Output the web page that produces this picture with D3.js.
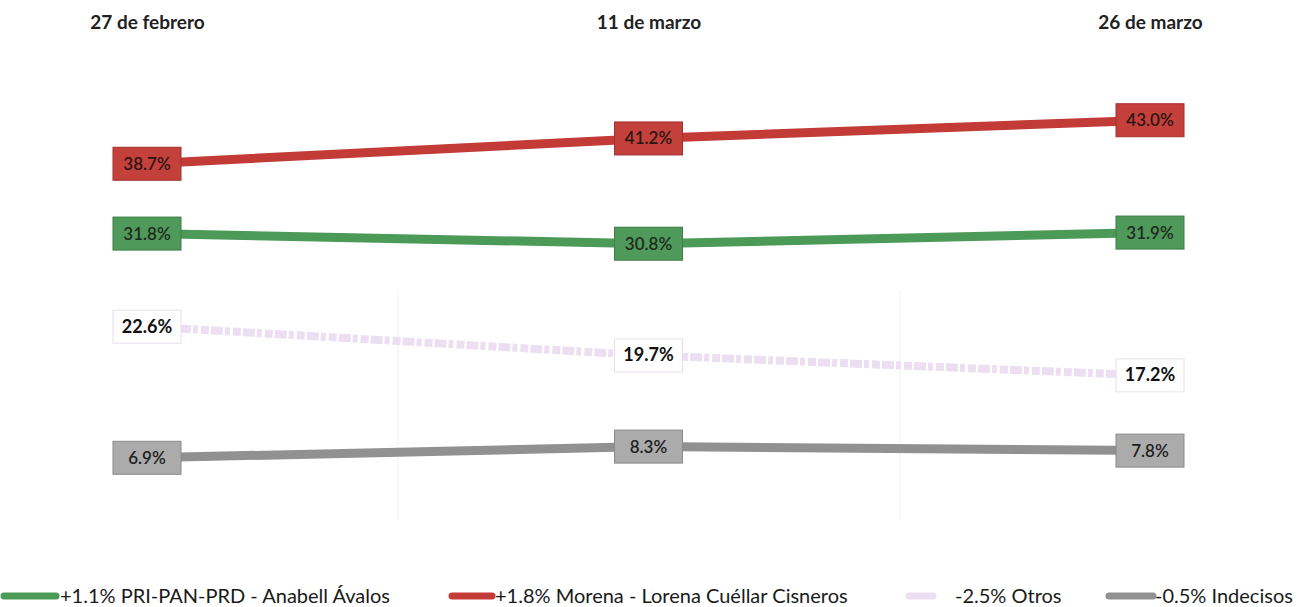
<!DOCTYPE html>
<html>
<head>
<meta charset="utf-8">
<script src="https://cdn.jsdelivr.net/npm/d3@7"></script>
<style>
  body { margin: 0; background: #fff; }
  svg text { font-family: Lato, "Open Sans", sans-serif; }
</style>
</head>
<body>
<div id="graph"></div>
<script>
    // fechas de la encuesta
    const dates = ["27 de febrero", "11 de marzo", "26 de marzo"];
    const series_names = ["PRI-PAN-PRD - Anabell Ávalos", "Morena - Lorena Cuéllar Cisneros", "Otros", "Indecisos"];
    const pri_values = [31.8, 30.8, 31.9];
    const morena_values = [38.7, 41.2, 43.0];
    const otros_values = [22.6, 19.7, 17.2];
    const indecisos_values = [6.9, 8.3, 7.8];
    const changes = ["+1.1%", "+1.8%", "-2.5%", "-0.5%"];

    const width = 1300;
    const height = 607;

    const styles = [
      {line: "#4c9a58", box: "#4f9a5a", border: "#3d7d46", text: "#1f2a1f", bold: false},
      {line: "#c23b36", box: "#c4413b", border: "#a3302c", text: "#2e1414", bold: false},
      {line: "#ecdff2", box: "#ffffff", border: "#eadcee", text: "#111", bold: true},
      {line: "#919191", box: "#ababab", border: "#8a8a8a", text: "#1e1e1e", bold: false}
    ];

    const all_series = [pri_values, morena_values, otros_values, indecisos_values].map((v, i) => ({
      name: series_names[i],
      change: changes[i],
      values: v.map((d, j) => ({date: dates[j], value: d})),
      style: styles[i]
    }));

    let svg = d3.select("#graph").append("svg")
      .attr("width", width)
      .attr("height", height);

    let x = d3.scalePoint()
      .domain(dates)
      .range([147, 1150]);

    // escala ajustada a la imagen original (no es del todo lineal)
    let y = d3.scaleLinear()
      .domain([5, 20, 45])
      .range([473, 353, 100]);

    // líneas verticales muy tenues
    svg.append("g")
      .selectAll("line")
      .data([398, 900])
      .enter()
      .append("line")
      .attr("x1", d => d).attr("x2", d => d)
      .attr("y1", 290).attr("y2", 520)
      .style("stroke", "#f2f2f2")
      .style("stroke-width", 1);

    let x_axis = d3.axisTop(x).tickSize(0).tickPadding(0);
    let gx = svg.append("g")
      .attr("transform", "translate(0, 29)")
      .call(x_axis);
    gx.select(".domain").remove();
    gx.selectAll("text")
      .style("font-family", "Lato, sans-serif")
      .style("font-size", "19px")
      .style("font-weight", "bold")
      .style("fill", "#222");

    let line = d3.line()
      .x(d => x(d.date))
      .y(d => y(d.value));

    let groups = svg.selectAll(".serie")
      .data(all_series)
      .enter()
      .append("g")
      .attr("class", "serie");

    groups.append("path")
      .attr("d", d => line(d.values))
      .style("fill", "none")
      .style("stroke", d => d.style.line)
      .style("stroke-width", (d, i) => i === 2 ? 8 : 9)
      .style("stroke-dasharray", (d, i) => i === 2 ? "12 2 5 3 8 2" : null);

    const box_w = 68, box_h = 33;
    groups.selectAll("rect")
      .data(d => d.values.map(v => Object.assign({style: d.style}, v)))
      .enter()
      .append("rect")
      .attr("x", d => x(d.date) - box_w / 2)
      .attr("y", d => y(d.value) - box_h / 2)
      .attr("width", box_w)
      .attr("height", box_h)
      .style("fill", d => d.style.box)
      .style("stroke", d => d.style.border)
      .style("stroke-width", 1);

    groups.selectAll(".value_label")
      .data(d => d.values.map(v => Object.assign({style: d.style}, v)))
      .enter()
      .append("text")
      .attr("class", "value_label")
      .attr("x", d => x(d.date))
      .attr("y", d => y(d.value) + 6)
      .style("text-anchor", "middle")
      .style("font-size", d => d.style.bold ? "18px" : "17px")
      .style("font-weight", d => d.style.bold ? "bold" : "600")
      .style("fill", d => d.style.text)
      .text(d => d3.format(".1f")(d.value) + "%");

    // leyenda
    const legend_x = [0, 448, 905, 1105];
    const swatch_w = [58, 46, 30, 50];
    const text_x = [60, 495, 50, 50];
    let legend = svg.append("g")
      .selectAll("g")
      .data(all_series)
      .enter()
      .append("g")
      .attr("transform", (d, i) => `translate(${legend_x[i]}, 596)`);
    legend.append("line")
      .attr("x1", 4).attr("x2", (d, i) => swatch_w[i] - 2)
      .attr("y1", 0).attr("y2", 0)
      .style("stroke", d => d.style.line)
      .style("stroke-width", 7)
      .style("stroke-linecap", "round");
    legend.append("text")
      .attr("x", (d, i) => i === 1 ? 47 : text_x[i])
      .attr("y", 7)
      .style("font-size", "20px")
      .style("fill", "#1a1a1a")
      .text(d => d.change + " " + d.name);
</script>
</body>
</html>
